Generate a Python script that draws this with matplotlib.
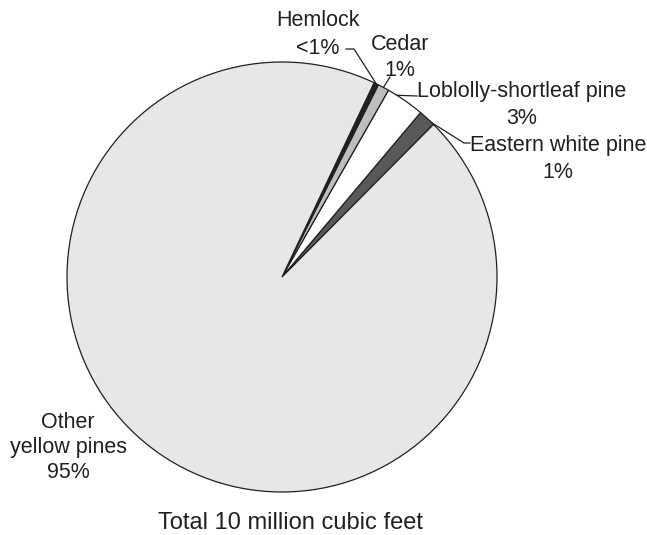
import numpy as np
import matplotlib.pyplot as plt

plt.rcParams["font.family"] = ["Liberation Sans", "DejaVu Sans"]

# species shares (%), counter-clockwise from Eastern white pine
species = ["Eastern white pine", "Loblolly-shortleaf pine", "Cedar", "Hemlock", "Other yellow pines"]
shares = [1.3, 2.9, 0.85, 0.35, 94.6]
pct_labels = ["1%", "3%", "1%", "<1%", "95%"]
colors = ["#58595b", "#ffffff", "#bcbec0", "#231f20", "#e6e7e8"]

W, H = 647, 535
fig = plt.figure(figsize=(W / 100, H / 100), dpi=100)
ax = fig.add_axes([0, 0, 1, 1])

cx, cy, r = 282, H - 277, 215
wedges, _ = ax.pie(shares, colors=colors, startangle=45.2, counterclock=True,
                   center=(cx, cy), radius=r,
                   wedgeprops=dict(edgecolor="#231f20", linewidth=0.9))
ax.set_xlim(0, W)
ax.set_ylim(0, H)
ax.set_aspect("equal")
ax.axis("off")


def rim(w, frac=0.5):
    a = np.deg2rad(w.theta1 + frac * (w.theta2 - w.theta1))
    return cx + r * np.cos(a), cy + r * np.sin(a)


ink = "#231f20"
kw = dict(fontsize=15.5, color=ink, ha="center", va="center")
lk = dict(color=ink, lw=0.9)


def label(x, y, lines, step=25):
    # y is measured from the top, in pixels
    for i, s in enumerate(lines):
        ax.text(x, H - (y + i * step), s, **kw)


# Hemlock
label(318, 21, [species[3], pct_labels[3]], step=27)
x, y = rim(wedges[3], 0.5)
ax.plot([346, 354, x], [H - 49, H - 49, y], **lk)

# Cedar
label(400, 45, [species[2], pct_labels[2]])
x, y = rim(wedges[2], 0.5)
ax.plot([390, x], [H - 77, y], **lk)

# Loblolly-shortleaf pine
label(522, 92, [species[1], pct_labels[1]], step=26)
x, y = rim(wedges[1], 0.75)
ax.plot([417, x], [H - 96, y], **lk)

# Eastern white pine
label(558, 145, [species[0], pct_labels[0]], step=27)
x, y = rim(wedges[0], 0.15)
ax.plot([470, 464, x], [H - 143, H - 143, y], **lk)

# Other yellow pines
label(68, 422, ["Other", "yellow pines", pct_labels[4]])

ax.text(291, H - 523, "Total 10 million cubic feet", fontsize=17, color=ink,
        ha="center", va="center")

fig.savefig("out.png", dpi=100)
